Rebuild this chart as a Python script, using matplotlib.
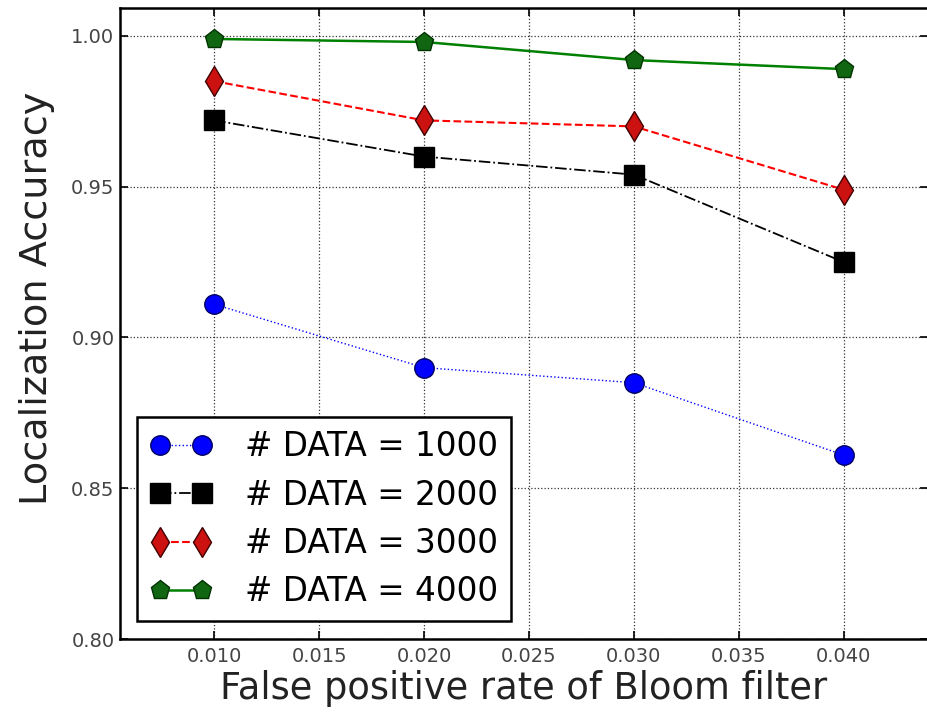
import matplotlib
matplotlib.use('Agg')
import matplotlib.pyplot as plt

# false positive rate of the bloom filter
fp_rate = [0.010, 0.020, 0.030, 0.040]

# localization accuracy per data set size
acc_1000 = [0.911, 0.890, 0.885, 0.861]
acc_2000 = [0.972, 0.960, 0.954, 0.925]
acc_3000 = [0.985, 0.972, 0.970, 0.949]
acc_4000 = [0.999, 0.998, 0.992, 0.989]

labels = ['# DATA = 1000', '# DATA = 2000', '# DATA = 3000', '# DATA = 4000']

x_ticks = [0.010, 0.015, 0.020, 0.025, 0.030, 0.035, 0.040]
y_ticks = [0.80, 0.85, 0.90, 0.95, 1.00]

fig = plt.figure(figsize=(9.27, 7.18), dpi=100)
ax = fig.add_axes([0.1294, 0.110, 0.8716, 0.879])

ax.plot(fp_rate, acc_1000, color='blue', linestyle=':', marker='o',
        markersize=14, markerfacecolor='blue', markeredgecolor='#000060', linewidth=1)
ax.plot(fp_rate, acc_2000, color='black', linestyle='-.', marker='s',
        markersize=14, markerfacecolor='black', linewidth=1.3)
ax.plot(fp_rate, acc_3000, color='red', linestyle='--', marker='d',
        markersize=15, markerfacecolor='#cc1111', markeredgecolor='#400000', linewidth=1.5)
ax.plot(fp_rate, acc_4000, color='green', linestyle='-', marker='p',
        markersize=14, markerfacecolor='#116611', markeredgecolor='#003300', linewidth=1.8)

ax.set_xlim(0.00551, 0.04401)
ax.set_ylim(0.80, 1.0093)
ax.set_xticks(x_ticks)
ax.set_yticks(y_ticks)
ax.set_xticklabels(['%.3f' % t for t in x_ticks])
ax.set_yticklabels(['%.2f' % t for t in y_ticks])
ax.tick_params(direction='in', length=6, width=1.2, labelsize=14,
               labelcolor='#444444', top=True, right=True)
ax.tick_params(axis='x', pad=6)
ax.tick_params(axis='y', pad=4)

ax.grid(True, color='black', linestyle=':', linewidth=0.9, alpha=0.8)
for spine in ax.spines.values():
    spine.set_linewidth(1.8)

ax.set_xlabel('False positive rate of Bloom filter', fontsize=26.5, color='#222222')
ax.set_ylabel('Localization Accuracy', fontsize=27.5, color='#222222')
ax.xaxis.set_label_coords(0.5, -0.049)
ax.yaxis.set_label_coords(-0.081, 0.54)

leg = ax.legend(labels, loc='lower left', numpoints=2, fontsize=23.5,
                fancybox=False, framealpha=1, edgecolor='black',
                handlelength=1.9, labelspacing=0.47, borderpad=0.4,
                handletextpad=1.0, borderaxespad=0,
                bbox_to_anchor=(0.021, 0.028))
leg.get_frame().set_linewidth(1.8)

fig.savefig('out.png', dpi=100, facecolor='white')
